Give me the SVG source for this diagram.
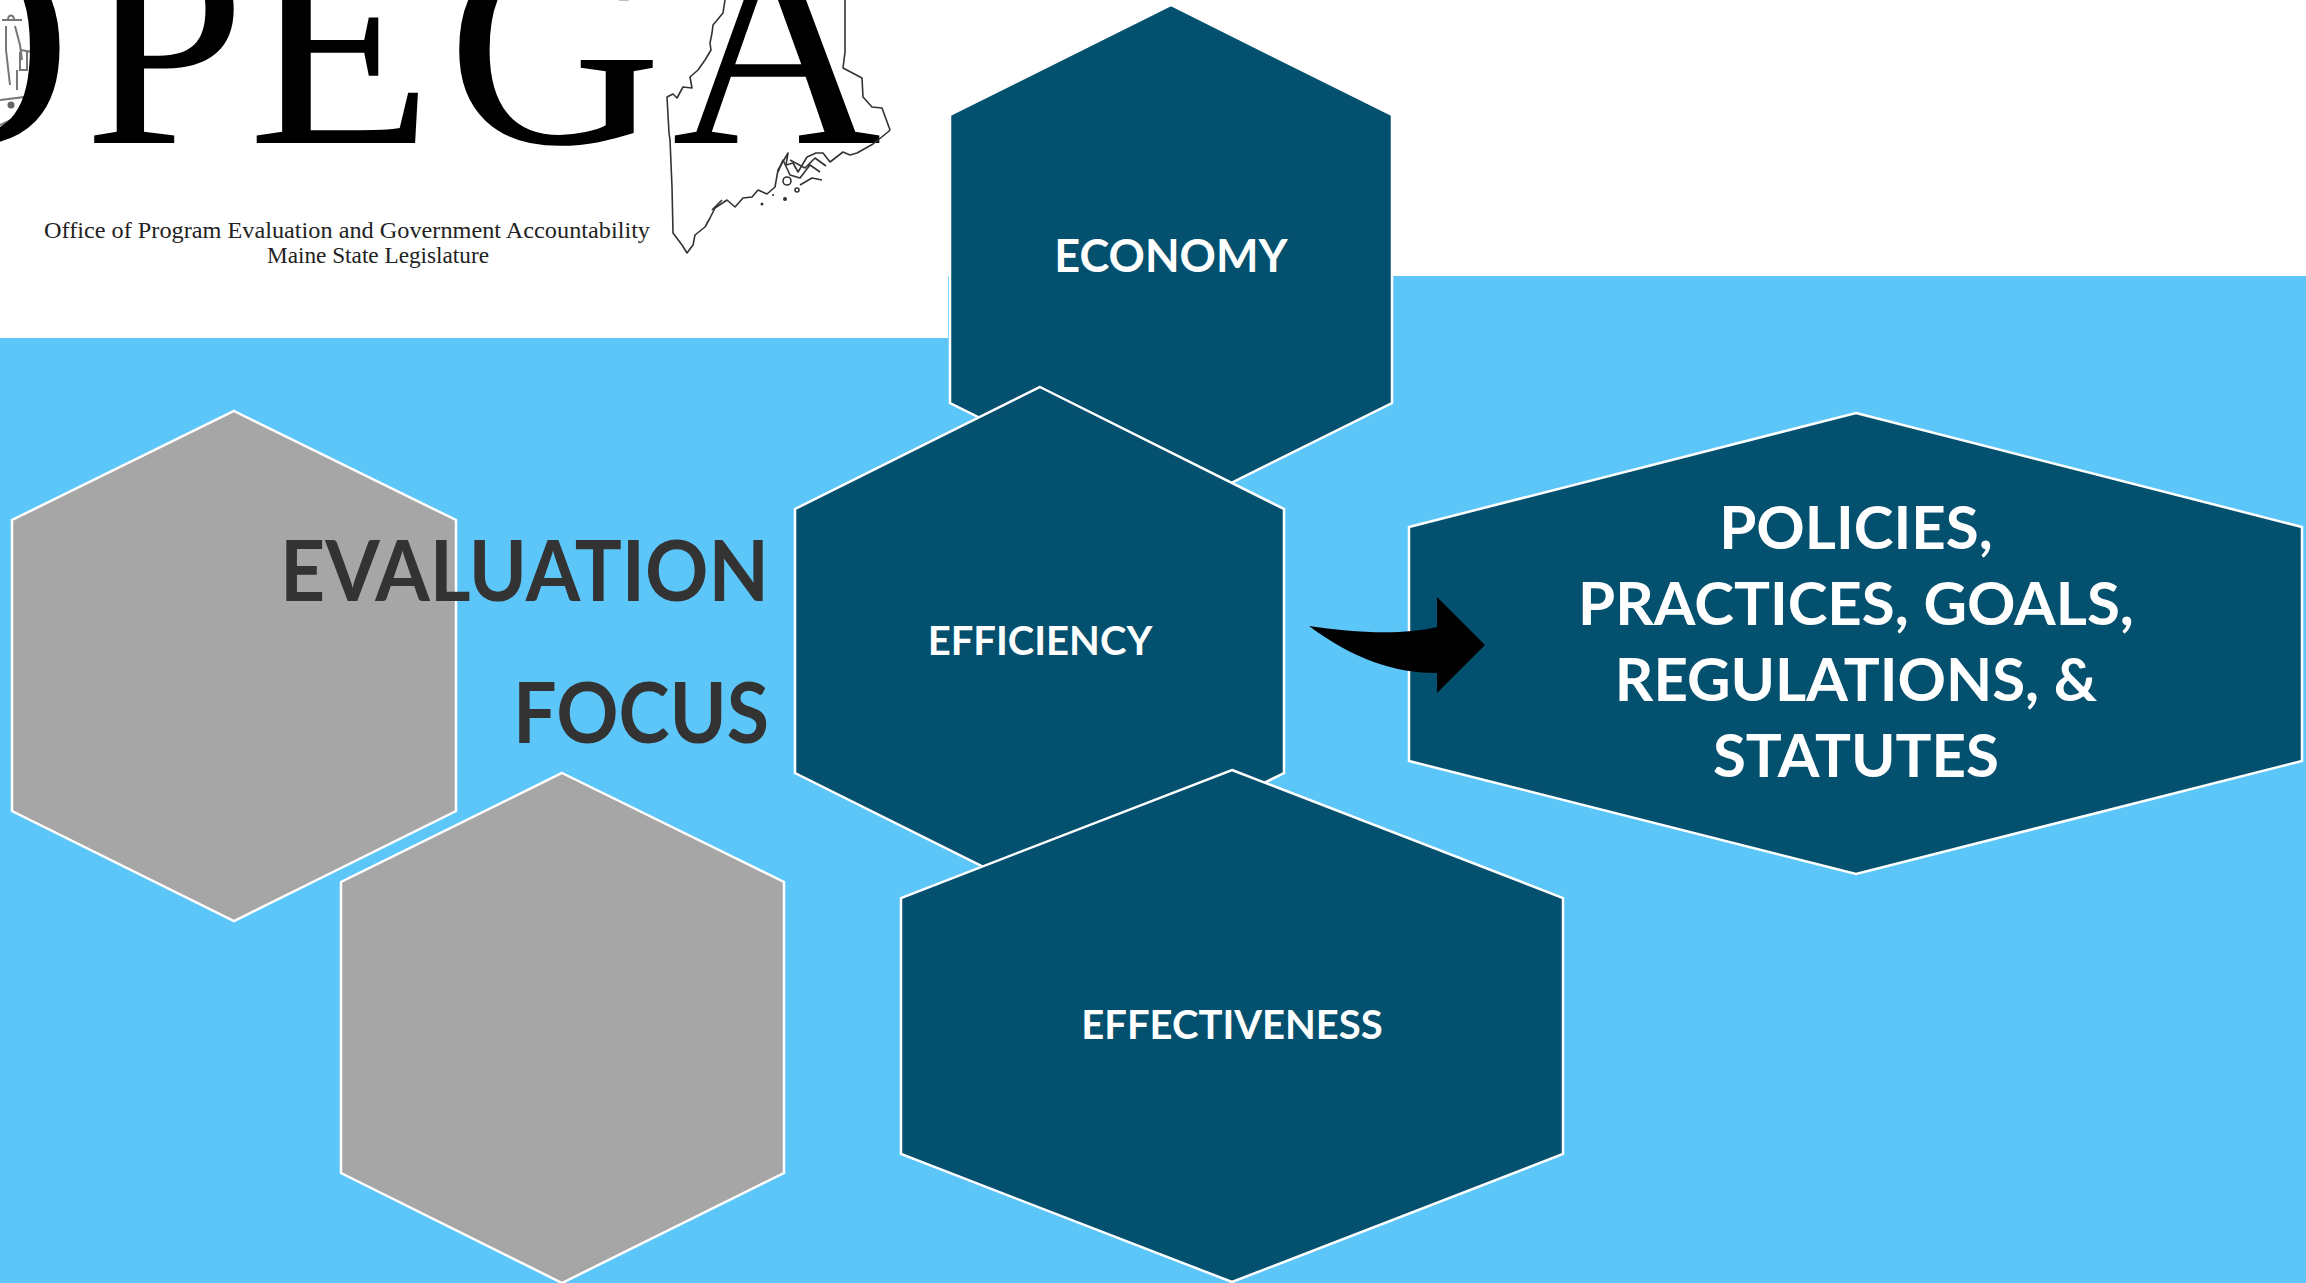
<svg xmlns="http://www.w3.org/2000/svg" width="2306" height="1283" viewBox="0 0 2306 1283">
<style>
.hex{fill:#04506f;stroke:#fff;stroke-width:2.5}
.gray{fill:#a6a6a6;stroke:#fff;stroke-width:2.5}
text{font-family:"Lato","Carlito","Open Sans",sans-serif;font-weight:700}
.lbl{fill:#fff;text-anchor:middle}
.ttl{fill:#333;font-size:84px;text-anchor:end}
.logo{font-family:"Liberation Serif",serif;font-weight:400;fill:#000;font-size:290px}
.sub{font-family:"Liberation Serif",serif;font-weight:400;fill:#222;font-size:24px;text-anchor:middle}
.map{fill:none;stroke:#333;stroke-width:1.6;stroke-linejoin:round}
.seal{fill:none;stroke:#777;stroke-width:2}
</style>
<rect width="2306" height="1283" fill="#fff"/>
<rect y="276" width="2306" height="1007" fill="#5dc6f9"/>
<rect width="948" height="338" fill="#fff"/>
<g id="logo">
<g id="seal">
<path class="seal" d="M2 20L22 20M8 20C8 14 14 14 14 20M6 26L6 50L10 85M15 26L20 45L22 60M20 50L33 52M20 52V70H27V52M17 70L17 90M0 100L25 97L22 115L0 125"/>
<circle cx="11" cy="105" r="3.5" fill="#666"/>
</g>
<text class="logo" x="-138" y="143">O</text>
<text class="logo" x="84" y="143">P</text>
<text class="logo" x="248" y="143" textLength="185" lengthAdjust="spacingAndGlyphs">E</text>
<text class="logo" x="447" y="143" textLength="215" lengthAdjust="spacingAndGlyphs">G</text>
<text class="logo" x="672" y="143">A</text>
<text class="sub" x="347" y="238" textLength="606" lengthAdjust="spacingAndGlyphs">Office of Program Evaluation and Government Accountability</text>
<text class="sub" x="378" y="263" textLength="222" lengthAdjust="spacingAndGlyphs">Maine State Legislature</text>
<path class="map" d="M725 0L723 13L713 25L712 33L710 43L711 50L705 60L698 70L690 77L692 88L683 87L677 98L673 94L667 97L669 133L670 140L672 187L673 233L682 245L687 253L693 245L695 235L705 227L710 218L715 208L727 200L735 207L743 198L752 197L758 190L767 194L775 187L778 170L788 153L786 165L793 163L798 172L807 157L816 153L823 153L830 162L843 152L850 155L857 153L873 144L888 132L890 130L882 108L872 107L863 97L862 78L843 68L845 52L845 0"/>
<path class="map" stroke-width="2.5" d="M712 210L722 200M778 172L783 160L790 175L800 178L810 165L820 172M790 160L805 168L815 158L826 166M800 185L812 178L822 180"/>
<circle class="map" cx="787" cy="181" r="4"/>
<circle class="map" cx="797" cy="190" r="2"/>
<circle cx="785" cy="199" r="2" fill="#333"/><circle cx="762" cy="204" r="1.5" fill="#333"/><circle cx="773" cy="195" r="1" fill="#333"/>
</g>
<g id="gray-1"><polygon class="gray" points="234,411 456,520 456,811 234,921 12,811 12,520"/></g>
<g id="gray-2"><polygon class="gray" points="562,773 784,882 784,1173 562,1283 341,1173 341,882"/></g>
<g id="economy"><polygon class="hex" points="1171,5 1392,115 1392,403 1171,513 950,403 950,115"/><text class="lbl" x="1171" y="272" font-size="45">ECONOMY</text></g>
<g id="efficiency"><polygon class="hex" points="1040,387 1284,509 1284,773 1040,895 795,773 795,509"/><text class="lbl" x="1040" y="655" font-size="40">EFFICIENCY</text></g>
<g id="effectiveness"><polygon class="hex" points="1232,770 1563,898 1563,1154 1232,1282 901,1154 901,898"/><text class="lbl" x="1232" y="1039" font-size="40">EFFECTIVENESS</text></g>
<g id="policies"><polygon class="hex" points="1856,413 2302,527 2302,761 1856,874 1409,761 1409,527"/>
<text class="lbl" font-size="60"><tspan x="1856" y="549">POLICIES,</tspan><tspan x="1856" y="625">PRACTICES, GOALS,</tspan><tspan x="1856" y="701">REGULATIONS, &amp;</tspan><tspan x="1856" y="777">STATUTES</tspan></text></g>
<text class="ttl" x="769" y="601" textLength="489" lengthAdjust="spacingAndGlyphs">EVALUATION</text>
<text class="ttl" x="769" y="743" textLength="256" lengthAdjust="spacingAndGlyphs">FOCUS</text>
<g id="connectors"><path d="M1309 626C1350 632 1400 636 1437 627V597L1485 645L1437 693V673C1395 673 1355 660 1309 626Z" fill="#000"/></g>
</svg>
